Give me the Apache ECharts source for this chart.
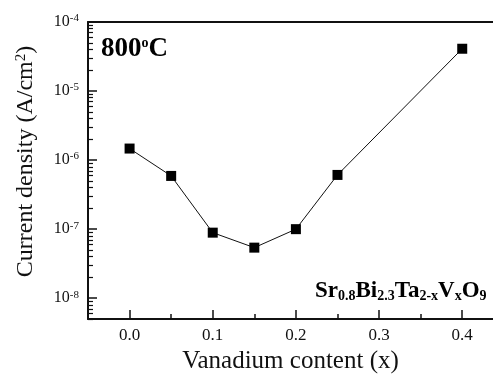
<!DOCTYPE html>
<html>
<head>
<meta charset="utf-8">
<script src="https://cdn.jsdelivr.net/npm/echarts@6/dist/echarts.min.js"></script>
<style>
  html, body { margin: 0; padding: 0; background: #fff; }
  #chart { width: 493px; height: 374px; }
</style>
</head>
<body>
<div id="chart"></div>
<script>
// vanadium content x and leakage current density (A/cm2) at 800 C
const xContent = [0.0, 0.05, 0.1, 0.15, 0.2, 0.25, 0.4];
const currentDensity = [1.47e-6, 5.9e-7, 8.9e-8, 5.4e-8, 1.0e-7, 6.1e-7, 4.1e-5];

const xMajorTicks = [0.0, 0.1, 0.2, 0.3, 0.4];
const xMinorTicks = [0.05, 0.15, 0.25, 0.35];
const yDecades = [1e-8, 1e-7, 1e-6, 1e-5, 1e-4];
const yMinorTicks = [];
[-9, -8, -7, -6, -5].forEach(function (e) {
    for (let m = 2; m <= 9; m++) {
        const v = m * Math.pow(10, e);
        if (v >= 5e-9 && v < 1e-4) yMinorTicks.push(v);
    }
});

const font = "Liberation Serif";
const ink = "#111";

const chart = echarts.init(document.getElementById("chart"));

const xBase = {
    type: "value",
    min: -0.05,
    max: 0.437,
    gridIndex: 0,
    splitLine: { show: false },
    axisLine: { onZero: false, lineStyle: { color: ink, width: 2 } },
};
const yBase = {
    type: "log",
    logBase: 10,
    min: 5e-9,
    max: 1e-4,
    position: "left",
    splitLine: { show: false },
    axisLine: { onZero: false, lineStyle: { color: ink, width: 2 } },
};

const options = {
    backgroundColor: "#fff",
    animation: false,
    grid: { left: 88, right: 0, top: 22, bottom: 55, containLabel: false, outerBoundsMode: "none" },
    xAxis: [
        {
            ...xBase,
            position: "bottom",
            name: "Vanadium content (x)",
            nameLocation: "middle",
            nameGap: 30,
            nameTextStyle: { fontFamily: font, fontSize: 25, color: ink },
            axisTick: {
                show: true, inside: true, length: 9,
                customValues: xMajorTicks,
                lineStyle: { color: ink, width: 1.5 },
            },
            axisLabel: {
                customValues: xMajorTicks,
                margin: 8,
                fontFamily: font,
                fontSize: 17,
                color: ink,
                formatter: (v) => v.toFixed(1),
            },
        },
        {
            ...xBase,
            position: "bottom",
            axisLine: { show: false, onZero: false },
            axisTick: {
                show: true, inside: true, length: 5,
                customValues: xMinorTicks,
                lineStyle: { color: ink, width: 1.5 },
            },
            axisLabel: { show: false },
        },
        {
            ...xBase,
            position: "top",
            axisTick: { show: false },
            axisLabel: { show: false },
        },
    ],
    yAxis: [
        {
            ...yBase,
            name: "Current density (A/cm{sup|2})",
            nameLocation: "middle",
            nameGap: 50,
            nameTextStyle: {
                fontFamily: font, fontSize: 24, color: ink,
                padding: [0, 0, 0, 18],
                rich: { sup: { fontFamily: font, fontSize: 15, color: ink, verticalAlign: "top" } },
            },
            axisTick: {
                show: true, inside: true, length: 9,
                customValues: yDecades,
                lineStyle: { color: ink, width: 1.5 },
            },
            axisLabel: {
                customValues: yDecades,
                margin: 9,
                formatter: (v) => "{b|10}{s|" + Math.round(Math.log10(v)) + "}",
                rich: {
                    b: { fontFamily: font, fontSize: 16, color: ink, lineHeight: 18 },
                    s: { fontFamily: font, fontSize: 11, color: ink, verticalAlign: "top", lineHeight: 10 },
                },
            },
        },
        {
            ...yBase,
            axisLine: { show: false, onZero: false },
            axisTick: {
                show: true, inside: true, length: 5,
                customValues: yMinorTicks,
                lineStyle: { color: ink, width: 1.2 },
            },
            axisLabel: { show: false },
        },
    ],
    series: [
        {
            type: "line",
            xAxisIndex: 0,
            yAxisIndex: 0,
            data: xContent.map((x, i) => [x, currentDensity[i]]),
            symbol: "rect",
            symbolSize: 10,
            lineStyle: { color: ink, width: 1 },
            itemStyle: { color: "#000" },
        },
    ],
    graphic: [
        {
            type: "text",
            left: 101,
            top: 36,
            style: {
                text: "{a|800}{o|o}{a|C}",
                rich: {
                    a: { fontFamily: font, fontSize: 27, fontWeight: "bold", fill: "#000" },
                    o: { fontFamily: font, fontSize: 14, fontWeight: "bold", fill: "#000", verticalAlign: "top" },
                },
            },
        },
        {
            type: "text",
            left: 315,
            top: 280,
            style: {
                text: "{m|Sr}{s|0.8}{m|Bi}{s|2.3}{m|Ta}{s|2-x}{m|V}{s|x}{m|O}{s|9}",
                rich: {
                    m: { fontFamily: font, fontSize: 23, fontWeight: "bold", fill: "#000" },
                    s: { fontFamily: font, fontSize: 14, fontWeight: "bold", fill: "#000", verticalAlign: "bottom" },
                },
            },
        },
    ],
};
chart.setOption(options);
</script>
</body>
</html>
